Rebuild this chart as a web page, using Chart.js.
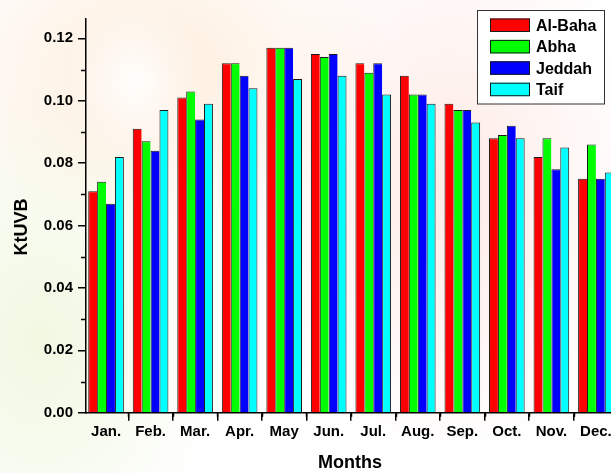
<!DOCTYPE html>
<html><head><meta charset="utf-8">
<script src="https://cdn.jsdelivr.net/npm/chart.js@4.4.0/dist/chart.umd.min.js"></script>
<style>
html,body{margin:0;padding:0;width:611px;height:473px;overflow:hidden;background:#fff;}
#wrap{position:absolute;left:0;top:0;width:611px;height:473px;overflow:hidden;
 background:
  radial-gradient(ellipse 70px 80px at 135px 80px, rgba(255,255,255,0.95) 0%, rgba(255,255,255,0) 100%),
  radial-gradient(ellipse 240px 170px at 150px 70px, rgba(252,215,175,0.45), rgba(252,215,175,0) 100%),
  radial-gradient(ellipse 180px 260px at 40px 340px, rgba(228,242,200,0.55), rgba(228,242,200,0) 100%),
  radial-gradient(ellipse 200px 280px at 450px 180px, rgba(252,210,198,0.45), rgba(252,210,198,0) 100%),
  #fff;}
canvas{position:absolute;left:0;top:0;}
</style></head>
<body><div id="wrap"><canvas id="c" width="640" height="473"></canvas></div>
<script>
// ---- data ----
const months = ['Jan.','Feb.','Mar.','Apr.','May','Jun.','Jul.','Aug.','Sep.','Oct.','Nov.','Dec.'];
const seriesNames = ['Al-Baha','Abha','Jeddah','Taif'];
const alBaha = [0.071,0.091,0.101,0.112,0.117,0.115,0.112,0.108,0.099,0.088,0.082,0.075];
const abha   = [0.074,0.087,0.103,0.112,0.117,0.114,0.109,0.102,0.097,0.089,0.088,0.086];
const jeddah = [0.067,0.084,0.094,0.108,0.117,0.115,0.112,0.102,0.097,0.092,0.078,0.075];
const taif   = [0.082,0.097,0.099,0.104,0.107,0.108,0.102,0.099,0.093,0.088,0.085,0.077];
const yTickStep = 0.02;
const yMax = 0.1262;
const yTitle = 'KtUVB';
const xTitle = 'Months';

// ---- styling ----
const colors = ['#ff0000','#00ff00','#0000ff','#00ffff'];
const series = [alBaha, abha, jeddah, taif];
const FONT = '"Liberation Sans", Arial, sans-serif';

const datasets = series.map((vals, i) => ({
  label: seriesNames[i],
  data: vals.map((v, j) => ({x: j + 1, y: v})),
  backgroundColor: colors[i],
  borderColor: '#1a1a1a',
  borderWidth: (i === series.length - 1) ? {top:1, left:1, right:1, bottom:0} : {top:1, left:1, right:0, bottom:0},
  borderSkipped: 'start',
  categoryPercentage: 0.8,
  barPercentage: 1.0
}));

const extras = {
  id: 'extras',
  afterDraw(chart) {
    const ctx = chart.ctx;
    const xs = chart.scales.x, ys = chart.scales.y;
    const ca = chart.chartArea;
    ctx.save();
    // minor ticks
    ctx.strokeStyle = '#000';
    ctx.lineWidth = 1.5;
    ctx.beginPath();
    for (let v = yTickStep / 2; v < yMax; v += yTickStep) {
      const py = Math.round(ys.getPixelForValue(v)) + 0.5;
      ctx.moveTo(ca.left - 5, py); ctx.lineTo(ca.left, py);
    }
    for (let k = 1; k <= months.length; k++) {
      const px = Math.round(xs.getPixelForValue(k + 0.5)) + 0.5;
      ctx.moveTo(px, ca.bottom); ctx.lineTo(px, ca.bottom + 4);
    }
    ctx.stroke();

    // legend
    const lx = 477.5, ly = 10.5, lw = 127, lh = 93.5;
    ctx.fillStyle = '#fff';
    ctx.fillRect(lx, ly, lw, lh);
    ctx.strokeStyle = '#333';
    ctx.lineWidth = 1;
    ctx.strokeRect(lx, ly, lw, lh);
    ctx.font = 'bold 16px ' + FONT;
    ctx.textBaseline = 'alphabetic';
    ctx.textAlign = 'left';
    seriesNames.forEach((name, i) => {
      const top = 18.5 + i * 21.4;
      ctx.fillStyle = colors[i];
      ctx.fillRect(490, top, 40, 13.5);
      ctx.strokeStyle = '#1a1a1a';
      ctx.strokeRect(490.5, top + 0.5, 39, 12.5);
      ctx.fillStyle = '#000';
      ctx.fillText(name, 536, top + 12.5);
    });

    // axis titles
    ctx.fillStyle = '#000';
    ctx.font = 'bold 18px ' + FONT;
    ctx.textAlign = 'center';
    ctx.textBaseline = 'alphabetic';
    ctx.fillText(xTitle, 350, 468);
    ctx.translate(27, 227);
    ctx.rotate(-Math.PI / 2);
    ctx.fillText(yTitle, 0, 0);
    ctx.restore();
  }
};

new Chart(document.getElementById('c'), {
  type: 'bar',
  data: { datasets },
  options: {
    responsive: false,
    animation: false,
    layout: { padding: { top: 19, left: 0, right: 0, bottom: 0 } },
    plugins: { legend: { display: false }, tooltip: { enabled: false } },
    scales: {
      x: {
        type: 'linear', min: 0.55, max: 12.99, offset: false,
        ticks: {
          stepSize: 1, includeBounds: false, autoSkip: false, maxRotation: 0,
          color: '#000', padding: 2,
          font: { family: FONT, size: 15, weight: 'bold' },
          callback: (v) => months[v - 1] !== undefined ? months[v - 1] : ''
        },
        grid: { drawOnChartArea: false, drawTicks: true, tickLength: 8, color: '#000', lineWidth: 1.5 },
        border: { display: true, color: '#000', width: 1.5 },
        afterFit: (s) => { s.height = 60.3; }
      },
      y: {
        min: 0, max: yMax,
        ticks: {
          stepSize: yTickStep, includeBounds: false, color: '#000', padding: 5,
          font: { family: FONT, size: 15, weight: 'bold' },
          callback: (v) => Number(v).toFixed(2)
        },
        grid: { drawOnChartArea: false, drawTicks: true, tickLength: 8, color: '#000', lineWidth: 1.5 },
        border: { display: true, color: '#000', width: 1.5 },
        afterFit: (s) => { s.width = 86; }
      }
    }
  },
  plugins: [extras]
});
</script>
</body></html>
